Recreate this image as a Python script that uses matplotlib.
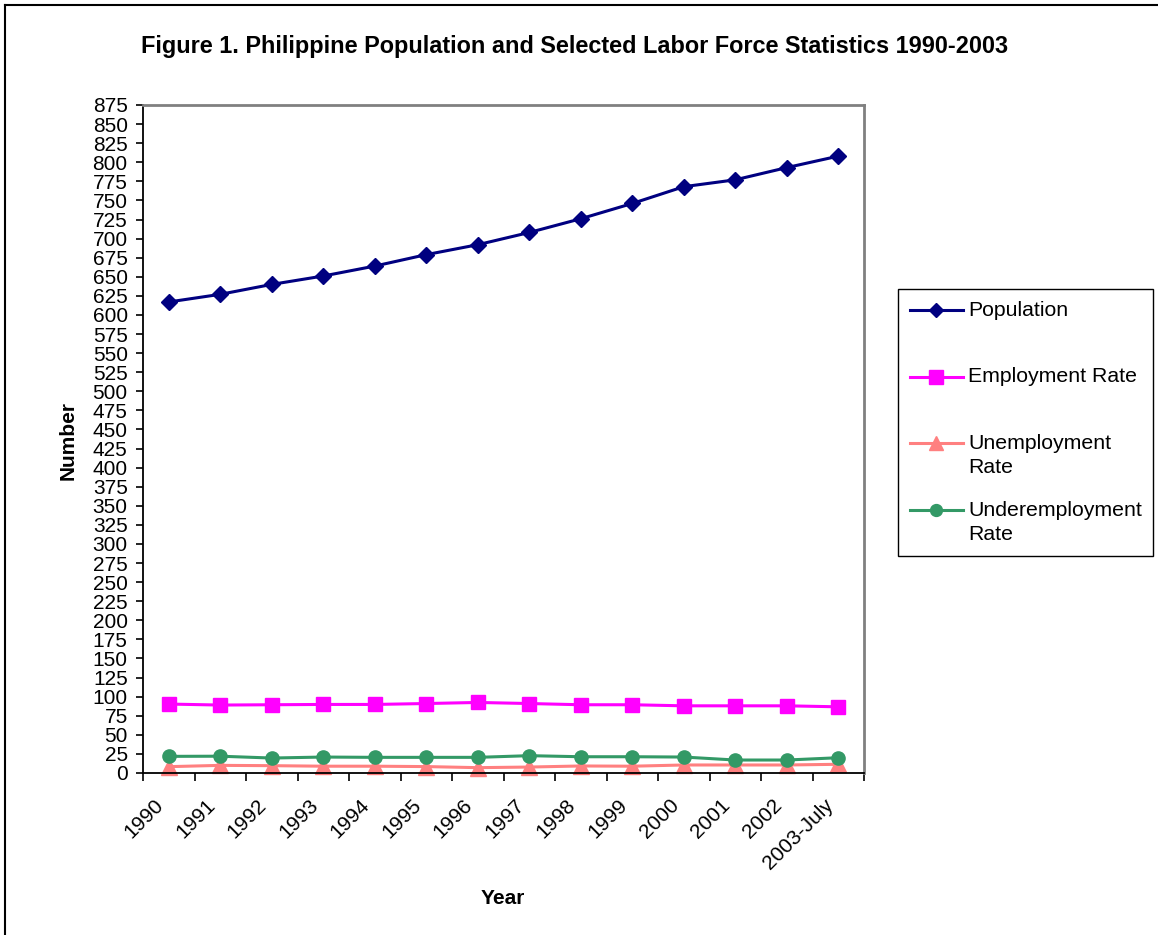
import matplotlib
matplotlib.use("Agg")
import matplotlib.pyplot as plt
import matplotlib.transforms as mtransforms
from matplotlib.lines import Line2D
from matplotlib.patches import Rectangle
import numpy as np

plt.rcParams["font.family"] = ["Liberation Sans", "DejaVu Sans"]

years = ["1990", "1991", "1992", "1993", "1994", "1995", "1996",
         "1997", "1998", "1999", "2000", "2001", "2002", "2003-July"]
population = [617, 627, 640, 651, 664, 679, 692, 708, 726, 746, 768, 777, 793, 808]
employment_rate = [90.3, 89.0, 89.4, 89.8, 89.8, 91.0, 92.4, 91.0, 89.4, 89.4, 88.0, 88.0, 88.0, 86.7]
unemployment_rate = [8.3, 10.0, 9.6, 8.9, 8.9, 8.4, 7.0, 7.8, 9.2, 8.9, 10.5, 10.5, 10.5, 11.4]
underemployment_rate = [21.8, 22.0, 19.6, 20.9, 20.5, 20.5, 20.5, 22.7, 21.3, 21.3, 20.9, 17.0, 17.0, 20.0]

series = [
    (["Population"], population, "#000080", "D", 8.0),
    (["Employment Rate"], employment_rate, "#FF00FF", "s", 10.5),
    (["Unemployment", "Rate"], unemployment_rate, "#FF8080", "^", 11),
    (["Underemployment", "Rate"], underemployment_rate, "#339966", "o", 9.5),
]

W, H = 1158, 935
fig = plt.figure(figsize=(W / 100, H / 100), dpi=100)


def fx(px):
    return px / W


def fy(py):
    return 1 - py / H


# plot area
left, right, top, bottom = 143, 864, 105, 773
ax = fig.add_axes([fx(left), fy(bottom), fx(right - left), fy(top) - fy(bottom)])

x = np.arange(len(years))
for lines, vals, color, marker, ms in series:
    ax.plot(x, vals, color=color, lw=2.2, marker=marker, markersize=ms,
            markerfacecolor=color, markeredgecolor=color,
            label=" ".join(lines), clip_on=False)

ax.set_xlim(-0.5, len(years) - 0.5)
ax.set_ylim(0, 875)
ax.set_yticks(np.arange(0, 876, 25))
ax.tick_params(axis="y", labelsize=15, length=5, width=1.2, direction="out", pad=6)

# category boundaries carry the tick marks, labels sit at category centres
ax.set_xticks(np.arange(-0.5, len(years), 1.0))
ax.set_xticklabels([])
ax.tick_params(axis="x", which="major", length=6, width=1.2, direction="out")
ax.set_xticks(x, minor=True)
ax.set_xticklabels(years, minor=True, rotation=45, ha="right", va="center",
                   rotation_mode="anchor", fontsize=15)
ax.tick_params(axis="x", which="minor", length=0, pad=21)
offset = mtransforms.ScaledTranslation(-8 / 100, 0, fig.dpi_scale_trans)
for lab in ax.xaxis.get_minorticklabels():
    lab.set_transform(lab.get_transform() + offset)

for side in ("top", "right"):
    ax.spines[side].set_color("#808080")
    ax.spines[side].set_linewidth(2)
for side in ("left", "bottom"):
    ax.spines[side].set_color("black")
    ax.spines[side].set_linewidth(1.3)

fig.text(fx(503), fy(898), "Year", ha="center", va="center",
         fontsize=15, fontweight="bold")
fig.text(fx(68), fy(440), "Number", ha="center", va="center", rotation=90,
         fontsize=15, fontweight="bold")

fig.text(fx(575), fy(46),
         "Figure 1. Philippine Population and Selected Labor Force Statistics 1990-2003",
         ha="center", va="center", fontsize=16.9, fontweight="bold")

# legend box
lx0, ly0, lx1, ly1 = 898, 289, 1153, 556
fig.add_artist(Rectangle((fx(lx0), fy(ly1)), fx(lx1 - lx0), fy(ly0) - fy(ly1),
                         transform=fig.transFigure, facecolor="white",
                         edgecolor="black", lw=1.0))
legend_rows = [310, 377, 443, 510]
for (lines, vals, color, marker, ms), ry in zip(series, legend_rows):
    fig.add_artist(Line2D([fx(910), fx(963)], [fy(ry), fy(ry)],
                          transform=fig.transFigure, color=color, lw=2.2))
    fig.add_artist(Line2D([fx(936.5)], [fy(ry)], transform=fig.transFigure,
                          marker=marker, markersize=ms * 0.9, color=color, lw=0))
    for i, line in enumerate(lines):
        fig.text(fx(968), fy(ry + 25 * i), line, ha="left", va="center",
                 fontsize=15.3)

# frame around the whole chart
fig.add_artist(Line2D([fx(5), fx(5)], [fy(5), 0], transform=fig.transFigure,
                      color="black", lw=1.5))
fig.add_artist(Line2D([fx(5), 1], [fy(5), fy(5)], transform=fig.transFigure,
                      color="black", lw=1.5))

fig.savefig("out.png", dpi=100)
